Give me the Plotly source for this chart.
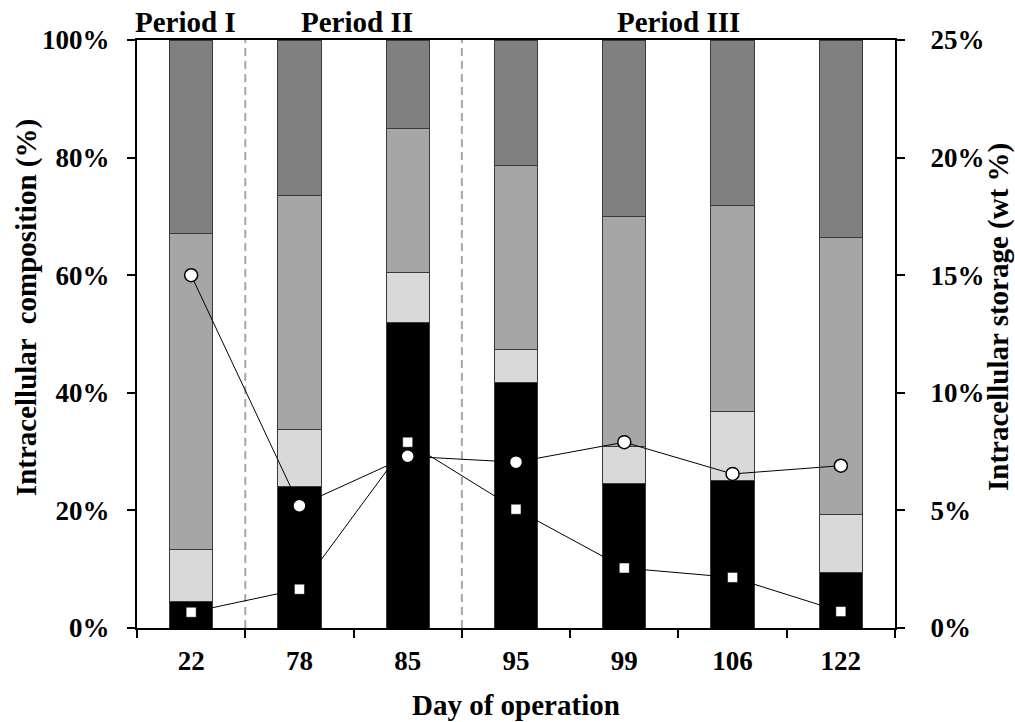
import plotly.graph_objects as go

days = ["22", "78", "85", "95", "99", "106", "122"]
black_seg = [4.5, 24.1, 52.0, 41.8, 24.5, 25.1, 9.5]
light_seg = [8.8, 9.6, 8.5, 5.6, 6.3, 11.8, 9.8]
mid_seg = [53.8, 39.9, 24.4, 31.2, 39.2, 35.0, 47.1]
dark_seg = [32.9, 26.4, 15.1, 21.4, 30.0, 28.1, 33.6]
circles = [15.0, 5.2, 7.3, 7.05, 7.9, 6.55, 6.9]
squares = [0.67, 1.65, 7.9, 5.05, 2.55, 2.15, 0.7]
left_ticks = [0, 20, 40, 60, 80, 100]
left_text = ["0%", "20%", "40%", "60%", "80%", "100%"]
right_ticks = [0, 5, 10, 15, 20, 25]
right_text = ["0%", "5%", "10%", "15%", "20%", "25%"]
periods = ["Period I", "Period II", "Period III"]
period_x = [-0.05, 1.53, 4.5]
period_bounds = [0.5, 2.5]

FONT = "Liberation Serif, Times New Roman, serif"
TICKFONT = dict(family=FONT, size=27, color="black", weight="bold")
TITLEFONT = dict(family=FONT, size=29, color="black", weight="bold")

fig = go.Figure()

for vals, col in ((black_seg, "#000000"), (light_seg, "#d9d9d9"),
                  (mid_seg, "#a6a6a6"), (dark_seg, "#808080")):
    fig.add_trace(go.Bar(x=days, y=vals, yaxis="y", marker=dict(color=col,
                         line=dict(color="#3a3a3a", width=1)), showlegend=False,
                         hoverinfo="skip"))

fig.add_trace(go.Scatter(x=days, y=circles, mode="lines+markers", yaxis="y2",
                         line=dict(color="black", width=1),
                         marker=dict(symbol="circle", size=13, color="white",
                                     line=dict(color="black", width=1.5)),
                         showlegend=False, hoverinfo="skip"))
fig.add_trace(go.Scatter(x=days, y=squares, mode="lines+markers", yaxis="y2",
                         line=dict(color="black", width=1),
                         marker=dict(symbol="square", size=10, color="white",
                                     line=dict(color="black", width=0.5)),
                         showlegend=False, hoverinfo="skip"))

for xb in period_bounds:
    fig.add_shape(type="line", xref="x", yref="paper", x0=xb, x1=xb, y0=0, y1=1,
                  line=dict(color="#a6a6a6", width=2, dash="8px,5px"), layer="below")

for t, xp in zip(periods, period_x):
    fig.add_annotation(text=t, x=xp, xref="x", y=1.0, yref="paper",
                       yanchor="bottom", yshift=0, showarrow=False,
                       font=dict(family=FONT, size=29, color="black", weight="bold"))
fig.add_annotation(text="Intracellular  composition (%)", x=0, xref="paper",
                   xanchor="center", xshift=26 - 137, y=0.544, yref="paper",
                   yanchor="middle", showarrow=False, textangle=-90, font=TITLEFONT)
fig.add_annotation(text="Intracellular storage (wt %)", x=1, xref="paper",
                   xanchor="center", xshift=999 - 895, y=0.529, yref="paper",
                   yanchor="middle", showarrow=False, textangle=-90, font=TITLEFONT)
fig.add_annotation(text="Day of operation", x=0.5, xref="paper", y=0, yref="paper",
                   yanchor="middle", yshift=-(705 - 628), showarrow=False,
                   font=TITLEFONT)

fig.update_layout(
    width=1015, height=722,
    margin=dict(l=137, r=120, t=40, b=94),
    paper_bgcolor="white", plot_bgcolor="white",
    font=dict(family=FONT, size=27, color="black", weight="bold"),
    barmode="stack", bargap=0.6, showlegend=False,
    xaxis=dict(type="category", categoryorder="array", categoryarray=days,
               showline=True, linewidth=2, linecolor="black", mirror=True,
               ticks="outside", tickson="boundaries", ticklen=8, tickwidth=2,
               tickcolor="black", showgrid=False, zeroline=False,
               range=[-0.5, 6.5], tickfont=TICKFONT, ticklabelstandoff=8),
    yaxis=dict(range=[0, 100], side="left", tickmode="array", tickvals=left_ticks,
               ticktext=left_text, showline=True, linewidth=2, linecolor="black",
               ticks="outside", ticklen=8, tickwidth=2, tickcolor="black",
               showgrid=False, zeroline=False, tickfont=TICKFONT,
               ticklabelstandoff=12),
    yaxis2=dict(range=[0, 25], side="right", overlaying="y", tickmode="array",
                tickvals=right_ticks, ticktext=right_text, showline=True,
                linewidth=2, linecolor="black", ticks="outside", ticklen=8,
                tickwidth=2, tickcolor="black", showgrid=False, zeroline=False,
                tickfont=TICKFONT, ticklabelstandoff=20),
)

fig.write_html("out.html")
